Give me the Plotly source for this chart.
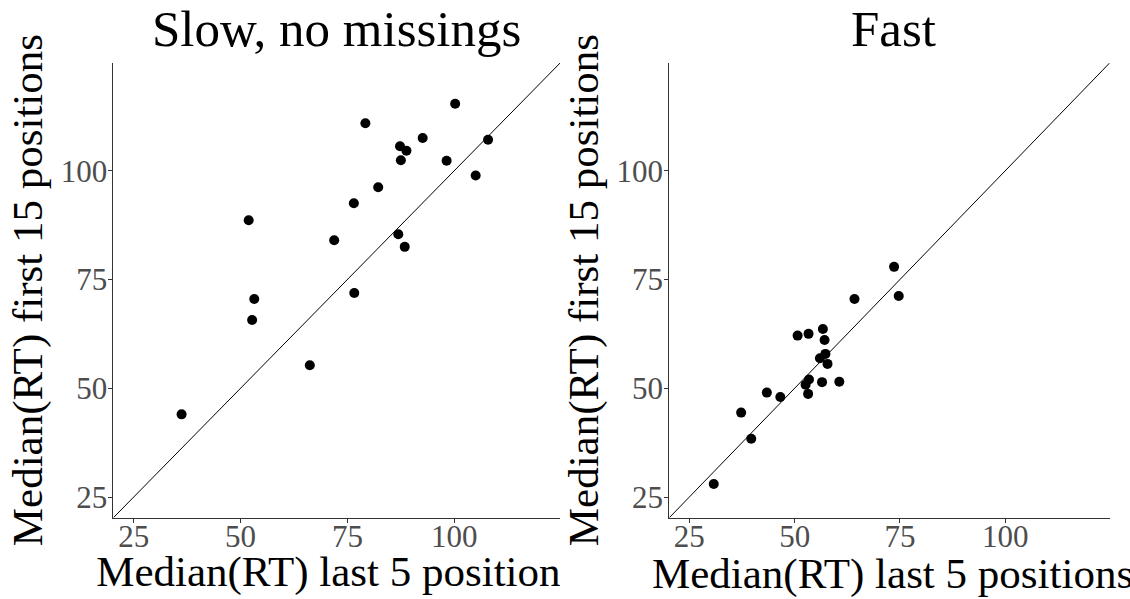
import plotly.graph_objects as go

# Median RT per participant: last 5 positions (x) vs first 15 positions (y)
slow_last5 = [36.2, 51.9, 53.2, 52.7, 66.2, 71.9, 76.5, 76.6, 79.2, 82.2,
              86.9, 88.4, 87.3, 88.8, 87.5, 92.6, 98.2, 100.2, 105.0, 107.9]
slow_first15 = [44.0, 88.6, 70.5, 65.7, 55.3, 84.0, 92.5, 71.9, 110.9, 96.2,
                85.4, 82.5, 105.6, 104.6, 102.4, 107.5, 102.3, 115.4, 98.9, 107.1]

fast_last5 = [30.8, 37.3, 39.7, 43.4, 46.6, 50.7, 53.3, 52.6, 53.4, 53.2,
              56.7, 57.1, 56.0, 57.3, 57.8, 56.5, 60.6, 64.2, 73.6, 74.7]
fast_first15 = [28.0, 44.4, 38.4, 49.0, 48.0, 62.1, 62.5, 50.8, 52.0, 48.7,
                63.6, 61.1, 56.9, 57.9, 55.6, 51.4, 51.5, 70.5, 77.9, 71.2]

panel_titles = ["Slow, no missings", "Fast"]
x_title = "Median(RT) last 5 positions"
y_title = "Median(RT) first 15 positions"
tick_vals = [25, 50, 75, 100]
limits = [25, 120]

# ggplot-style 5% expansion of the limits
pad = 0.05 * (limits[1] - limits[0])
lo, hi = limits[0] - pad, limits[1] + pad

W, H = 1130, 599
FONT = "Liberation Serif"
TICK_GREY = "#4D4D4D"
LINE_GREY = "#333333"

left_dom = [113.4 / W, 560.1 / W]
right_dom = [669.3 / W, 1109.6 / W]
y_dom = [(H - 517.7) / H, (H - 63.0) / H]

fig = go.Figure()

for data_x, data_y, xa, ya in [(slow_last5, slow_first15, "x", "y"),
                               (fast_last5, fast_first15, "x2", "y2")]:
    fig.add_trace(go.Scatter(
        x=data_x, y=data_y, mode="markers", xaxis=xa, yaxis=ya,
        marker=dict(color="black", size=10, line=dict(width=0)),
        hoverinfo="skip", showlegend=False))
    # identity line y = x across the panel
    fig.add_trace(go.Scatter(
        x=[lo, hi], y=[lo, hi], mode="lines", xaxis=xa, yaxis=ya,
        line=dict(color="black", width=1),
        hoverinfo="skip", showlegend=False))

# strip under the left panel: its x-title is clipped at the panel's right edge
strip_w = left_dom[1] * W
strip_h = 0.13 * H
fig.add_trace(go.Scatter(
    x=[(left_dom[0] + left_dom[1]) / 2 * W], y=[H - 575.4],
    mode="text", text=[x_title], textposition="middle center",
    textfont=dict(family=FONT, size=43, color="black"),
    xaxis="x3", yaxis="y3", cliponaxis=True,
    hoverinfo="skip", showlegend=False))

axis_common = dict(
    range=[lo, hi], tickvals=tick_vals, ticks="outside", ticklen=4,
    tickwidth=1, tickcolor=LINE_GREY, showline=True, linecolor=LINE_GREY,
    linewidth=1, showgrid=False, zeroline=False,
    tickfont=dict(family=FONT, size=31, color=TICK_GREY), fixedrange=True)

fig.update_layout(
    width=W, height=H, autosize=False,
    margin=dict(l=0, r=0, t=0, b=0, pad=0),
    paper_bgcolor="white", plot_bgcolor="rgba(0,0,0,0)",
    font=dict(family=FONT, color="black"),
    xaxis=dict(domain=left_dom, anchor="y", ticklabelstandoff=-13, **axis_common),
    yaxis=dict(domain=y_dom, anchor="x", ticklabelstandoff=-5, **axis_common),
    xaxis2=dict(domain=right_dom, anchor="y2", ticklabelstandoff=-13, **axis_common),
    yaxis2=dict(domain=y_dom, anchor="x2", ticklabelstandoff=-5, **axis_common),
    xaxis3=dict(domain=[0, left_dom[1]], range=[0, strip_w], anchor="y3",
                visible=False, fixedrange=True),
    yaxis3=dict(domain=[0, 0.13], range=[0, strip_h], anchor="x3",
                visible=False, fixedrange=True),
)

annotations = []
# panel titles
for title, dom, xshift in [(panel_titles[0], left_dom, 0), (panel_titles[1], right_dom, 4)]:
    annotations.append(dict(
        text=title, xref="paper", yref="paper",
        x=(dom[0] + dom[1]) / 2, y=(H - 29.3) / H, xshift=xshift,
        xanchor="center", yanchor="middle", showarrow=False,
        font=dict(family=FONT, size=51, color="black")))

# y-axis titles
for cx in [28.8, 584.8]:
    annotations.append(dict(
        text=y_title, xref="paper", yref="paper",
        x=cx / W, y=(y_dom[0] + y_dom[1]) / 2, textangle=-90,
        xanchor="center", yanchor="middle", showarrow=False,
        font=dict(family=FONT, size=43, color="black")))

# x-axis title of the right panel (runs to the page edge)
annotations.append(dict(
    text=x_title, xref="paper", yref="paper",
    x=(right_dom[0] + right_dom[1]) / 2, y=(H - 573.8) / H, xshift=3,
    xanchor="center", yanchor="middle", showarrow=False,
    font=dict(family=FONT, size=43, color="black")))

fig.update_layout(annotations=annotations)

fig.write_html("out.html", config={"displayModeBar": False})
